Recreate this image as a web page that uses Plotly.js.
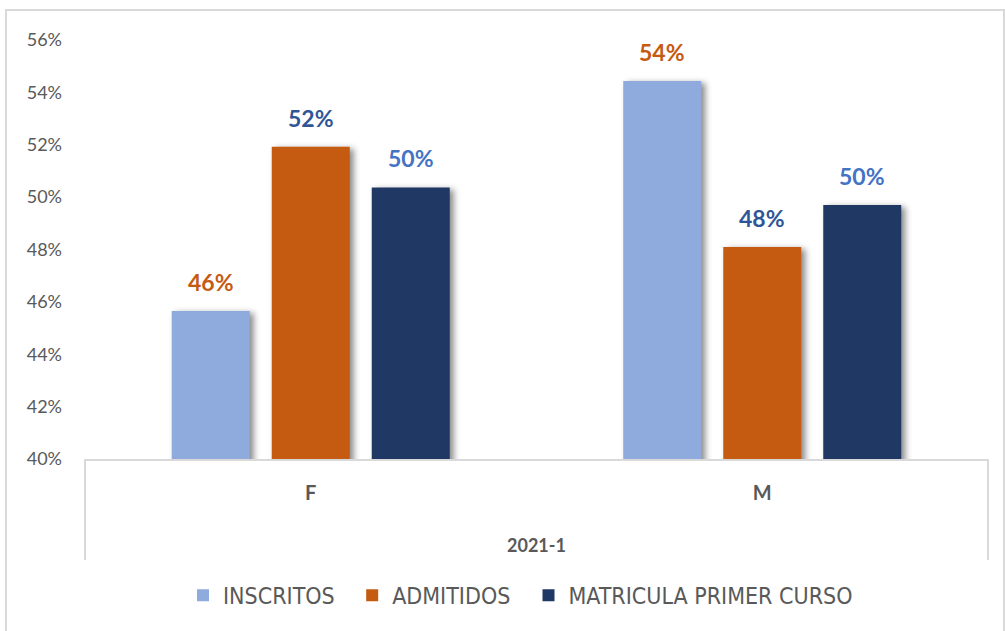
<!DOCTYPE html>
<html><head><meta charset="utf-8">
<script src="https://cdn.plot.ly/plotly-3.0.1.min.js"></script>
<style>
html,body{margin:0;padding:0;background:#fff;}
#chart{width:1005px;height:631px;}
#chart .barlayer .point path{filter:drop-shadow(4px 2px 3px rgba(0,0,0,0.45));}
#chart .legendtext{font-family:'DejaVu Sans',sans-serif !important;font-stretch:condensed;}
</style>
</head><body>
<div id="chart"></div>
<script>
const categories = ["F", "M"];
const groupLabel = "2021-1";
const seriesNames = ["INSCRITOS", "ADMITIDOS", "MATRICULA PRIMER CURSO"];
const inscritos = [0.4565, 0.5443];
const admitidos = [0.5192, 0.4810];
const matricula = [0.5037, 0.4970];
const barColors = ["#8FAADC", "#C55A11", "#203864"];
const labelColors = ["#C55A11", "#2F5597", "#4472C4"];
const yTicks = [0.40, 0.42, 0.44, 0.46, 0.48, 0.50, 0.52, 0.54, 0.56];

const seriesValues = [inscritos, admitidos, matricula];
const traces = seriesValues.map((vals, i) => ({
  type: "bar",
  name: seriesNames[i],
  x: categories,
  y: vals,
  marker: {color: barColors[i]},
  hoverinfo: "skip"
}));

const annotations = [];
seriesValues.forEach((vals, i) => {
  vals.forEach((v, j) => {
    annotations.push({
      x: categories[j], y: v, xref: "x", yref: "y",
      text: "<b>" + Math.round(v * 100) + "%</b>",
      showarrow: false, yanchor: "bottom", yshift: 13, xshift: (i - 1) * 100,
      font: {family: "Lato, 'Open Sans', sans-serif", size: 23, color: labelColors[i]}
    });
  });
});
annotations.push({
  x: 0.5, y: -0.205, xref: "paper", yref: "paper", text: "<b>" + groupLabel + "</b>",
  showarrow: false, yanchor: "middle",
  font: {family: "Lato, 'Open Sans', sans-serif", size: 18, color: "#595959"}
});

const layout = {
  width: 1005, height: 631,
  margin: {l: 85, r: 17, t: 40, b: 172},
  paper_bgcolor: "#fff", plot_bgcolor: "#fff",
  barmode: "group", bargap: 0.3355, bargroupgap: 0.22,
  showlegend: true,
  legend: {orientation: "h", x: 0.5, xanchor: "center", y: -0.325, yanchor: "middle",
    font: {family: "'DejaVu Sans', sans-serif", size: 23, color: "#595959"},
    itemwidth: 30, tracegroupgap: 0},
  xaxis: {type: "category", showgrid: false, zeroline: false, showline: true, linecolor: "#D9D9D9", linewidth: 2,
    ticks: "", ticklabelstandoff: 15,
    tickfont: {family: "Lato, 'Open Sans', sans-serif", size: 20, color: "#595959", weight: "bold"}},
  yaxis: {range: [0.40, 0.56], tickvals: yTicks, tickformat: ".0%", showgrid: false, zeroline: false,
    showline: false, ticks: "", ticklabelstandoff: 22,
    tickfont: {family: "Lato, 'Open Sans', sans-serif", size: 18, color: "#595959"}},
  annotations: annotations,
  shapes: [
    {type: "rect", xref: "paper", yref: "paper", x0: -0.0875, x1: 1.0177, y0: -0.45, y1: 1.0716,
      line: {color: "#D9D9D9", width: 2}, fillcolor: "rgba(0,0,0,0)", layer: "below"},
    {type: "line", xref: "paper", yref: "paper", x0: 0, x1: 0, y0: 0, y1: -0.241, line: {color: "#D9D9D9", width: 2}},
    {type: "line", xref: "paper", yref: "paper", x0: 1, x1: 1, y0: 0, y1: -0.241, line: {color: "#D9D9D9", width: 2}}
  ]
};

Plotly.newPlot("chart", traces, layout, {displayModeBar: false, staticPlot: true});
</script>
</body></html>
